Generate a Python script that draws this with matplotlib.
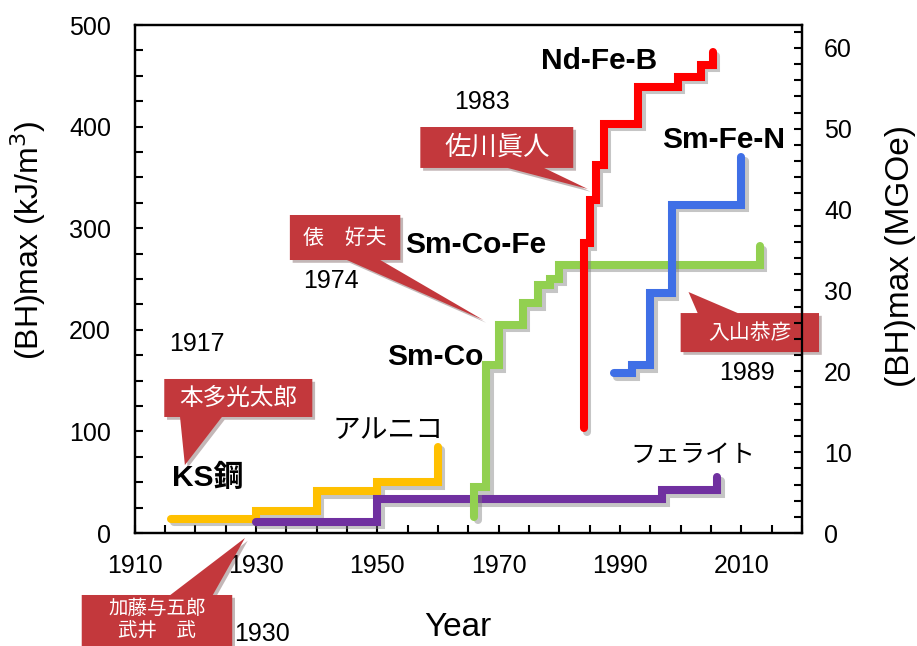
import numpy as np
import matplotlib
matplotlib.use("Agg")
import matplotlib.pyplot as plt
import matplotlib.patheffects as pe
from matplotlib.patches import Polygon
from matplotlib.ticker import MultipleLocator, FixedLocator

plt.rcParams['font.family'] = ['Liberation Sans', 'Noto Sans CJK JP']
JP = ['Noto Sans CJK JP', 'Liberation Sans']
MIX = ['Liberation Sans', 'Noto Sans CJK JP']

# step data: year, (BH)max in kJ/m3
ks_year = [1916, 1930, 1940, 1950, 1960, 1960]
ks_bh = [14, 22, 41, 50, 85, 85]

ferrite_year = [1930, 1950, 1997, 2006, 2006]
ferrite_bh = [11, 33, 42, 55, 55]

smco_year = [1966, 1966, 1968, 1970, 1974, 1976.5, 1978.5, 1980, 2013, 2013]
smco_bh = [16, 45, 165, 205, 226, 244, 250, 264, 282, 282]

ndfeb_year = [1984, 1984, 1985, 1986, 1987.3, 1993, 1999.5, 2003.3, 2005.3, 2005.3]
ndfeb_bh = [103, 285, 328, 362, 403, 439, 449, 461, 473, 473]

smfen_year = [1989, 1992, 1995, 1998.5, 2010, 2010]
smfen_bh = [157, 165, 236, 323, 370, 370]

year_ticks = [1910, 1930, 1950, 1970, 1990, 2010]

series = [
    (ks_year, ks_bh, '#FFC000'),
    (ferrite_year, ferrite_bh, '#7030A0'),
    (smco_year, smco_bh, '#92D050'),
    (ndfeb_year, ndfeb_bh, '#FF0000'),
    (smfen_year, smfen_bh, '#3F6FE6'),
]

KJ_PER_MGOE = 7.958

fig = plt.figure(figsize=(9.17, 6.46), dpi=100)
ax = fig.add_axes([0.1467, 0.1749, 0.7279, 0.7864])
ax.set_xlim(1910, 2020)
ax.set_ylim(0, 500)

shadow = [pe.SimpleLineShadow(offset=(2.5, -2.5), shadow_color='gray', alpha=0.45),
          pe.Normal()]
for xs, ys, c in series:
    ax.plot(xs, ys, drawstyle='steps-post', color=c, lw=5.8,
            solid_capstyle='round', solid_joinstyle='miter',
            path_effects=shadow, zorder=3)

# axes styling
for s in ax.spines.values():
    s.set_linewidth(1.6)
ax.xaxis.set_major_locator(FixedLocator(year_ticks))
ax.xaxis.set_minor_locator(MultipleLocator(5))
ax.yaxis.set_major_locator(MultipleLocator(100))
ax.yaxis.set_minor_locator(MultipleLocator(25))
ax.tick_params(which='both', direction='in', length=6, width=1.5)
ax.tick_params(axis='x', which='major', pad=15, labelsize=18)
ax.tick_params(axis='y', which='major', pad=17, labelsize=18)

ax2 = ax.twinx()
ax2.set_ylim(0, 500 / KJ_PER_MGOE)
ax2.yaxis.set_major_locator(MultipleLocator(10))
ax2.yaxis.set_minor_locator(MultipleLocator(2))
ax2.tick_params(which='both', direction='in', length=6, width=1.5)
ax2.tick_params(which='major', pad=16, labelsize=18)
for s in ax2.spines.values():
    s.set_linewidth(1.6)

fig.text(28 / 917, 1 - 240 / 646, '(BH)max (kJ/m$^3$)', rotation=90,
         ha='center', va='center', fontsize=23)
fig.text(900 / 917, 1 - 256 / 646, '(BH)max (MGOe)', rotation=90,
         ha='center', va='center', fontsize=24)
fig.text(458 / 917, 1 - 627 / 646, 'Year', ha='center', va='center', fontsize=24)

# material labels
bold_labels = [
    ('Nd-Fe-B', 1986.5, 465),
    ('Sm-Fe-N', 2007.0, 387),
    ('Sm-Co-Fe', 1966.2, 283),
    ('Sm-Co', 1959.5, 173),
    ('KS鋼', 1922.0, 54),
]
for t, x, y in bold_labels:
    ax.text(x, y, t, ha='center', va='center', fontsize=21.5,
            fontweight='bold', family=MIX, zorder=5)

plain_labels = [
    ('1983', 1967.3, 424, MIX, 18),
    ('1974', 1942.3, 248, MIX, 18),
    ('1917', 1920.3, 186, MIX, 18),
    ('1989', 2011.0, 157, MIX, 18),
    ('1930', 1931.0, -99, MIX, 18),
    ('アルニコ', 1951.7, 101, JP, 20),
    ('フェライト', 2002.0, 77, JP, 18),
]
for t, x, y, fam, fs in plain_labels:
    ax.text(x, y, t, ha='center', va='center', fontsize=fs,
            family=fam, zorder=5, clip_on=False)

# name callouts: box (x0, x1, ybottom, ytop), pointer base (b0, b1), side, tip, text
callouts = [
    ('佐川眞人', (1957.1, 1982.3, 359.3, 399.6), (1971.5, 1977.5), 'bottom', (1984.7, 338.6), 19, None),
    ('俵　好夫', (1935.6, 1953.8, 268.7, 313.0), (1945.0, 1950.5), 'bottom', (1967.5, 209.6), 15, None),
    ('入山恭彦', (2000.0, 2022.8, 178.1, 216.5), (2002.8, 2009.4), 'top', (2001.3, 237.2), 15, None),
    ('本多光太郎', (1914.9, 1939.3, 114.2, 151.6), (1917.5, 1924.4), 'bottom', (1918.3, 66.9), 17, None),
    ('加藤与五郎\n武井　武', (1901.3, 1926.1, -130.0, -61.0), (1915.9, 1922.9), 'top', (1928.2, -4.9), 14, -85.0),
]
for t, (x0, x1, yb, yt), (b0, b1), side, tip, fs, ty in callouts:
    if side == 'bottom':
        verts = [(x0, yt), (x1, yt), (x1, yb), (b1, yb), tip, (b0, yb), (x0, yb)]
    else:
        verts = [(x0, yb), (x1, yb), (x1, yt), (b1, yt), tip, (b0, yt), (x0, yt)]
    poly = Polygon(verts, closed=True, facecolor='#C3383C', edgecolor='none',
                   clip_on=False, zorder=6,
                   path_effects=[pe.SimplePatchShadow(offset=(2, -2), alpha=0.3), pe.Normal()])
    ax.add_patch(poly)
    if ty is None:
        ty = (yb + yt) / 2
    ax.text((x0 + x1) / 2, ty, t, ha='center', va='center', color='white',
            fontsize=fs, family=JP, zorder=7, clip_on=False, linespacing=1.1)

fig.savefig('out.png', dpi=100)
